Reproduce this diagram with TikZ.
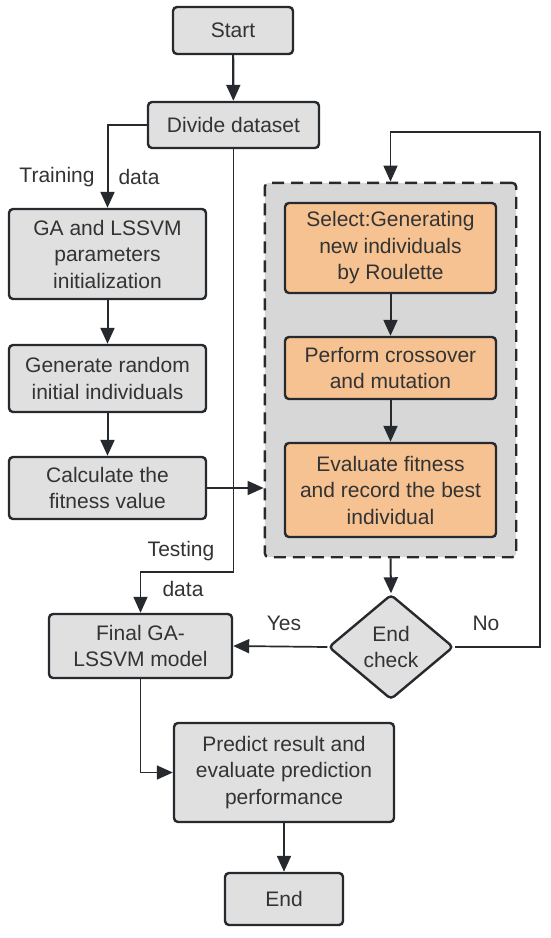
\documentclass[tikz,border=0pt]{standalone}
\usepackage{fontspec}
\setmainfont{Liberation Sans}
\usepackage{tikz}
\usetikzlibrary{shapes,arrows.meta,fit,backgrounds}
\definecolor{boxGray}{RGB}{224,224,224}
\definecolor{loopGray}{RGB}{215,215,215}
\definecolor{myOrange}{RGB}{246,194,145}
\definecolor{lineDark}{RGB}{38,42,46}
\definecolor{textDark}{RGB}{51,51,51}

\begin{document}
\begin{tikzpicture}[%
	x=1pt,y=-1pt,
	every node/.style={
		font=\fontsize{21}{26.5}\selectfont,
		text=textDark,
		align=center,
	},
	box/.style={
		draw=lineDark, line width=2.4pt, fill=boxGray,
		rounded corners=4pt, inner sep=2pt,
	},
	gabox/.style={box, fill=myOrange},
	label/.style={inner sep=0pt},
	link/.style={->, draw=lineDark, line width=2pt},
	thin link/.style={link, line width=1.7pt},
	>={Triangle[length=16pt,width=14pt]},
	]
	\useasboundingbox (0,0) rectangle (550,938);
	
	% main column
	\node[box, minimum width=120pt, minimum height=47pt] (start) at (233,30.5) {Start};
	\node[box, minimum width=171pt, minimum height=46pt] (divide) at (233.5,125) {Divide dataset};
	\node[box, minimum width=197pt, minimum height=90pt] (init) at (107.5,254) {GA and LSSVM\\parameters\\initialization};
	\node[box, minimum width=197pt, minimum height=67pt] (gen) at (107.5,378.5) {Generate random\\initial individuals};
	\node[box, minimum width=197pt, minimum height=62pt] (calc) at (107.5,488) {Calculate the\\fitness value};
	\node[box, minimum width=183pt, minimum height=64pt] (final) at (140.5,646) {Final GA-\\LSSVM model};
	\node[box, minimum width=220pt, minimum height=99pt] (pred) at (284,772.5) {Predict result and\\evaluate prediction\\performance};
	\node[box, minimum width=118pt, minimum height=52pt] (stop) at (284,899) {End};
	
	% GA loop
	\node[gabox, minimum width=211pt, minimum height=90pt] (sel) at (390.5,248) {Select:Generating\\new individuals\\by Roulette};
	\node[gabox, minimum width=211pt, minimum height=62pt] (cross) at (390.5,368) {Perform crossover\\and mutation};
	\node[gabox, minimum width=211pt, minimum height=94pt] (eval) at (390.5,490) {Evaluate fitness\\and record the best\\individual};
	\begin{scope}[on background layer]
		\node[draw=lineDark, line width=2.4pt, fill=loopGray, rounded corners=4pt,
		dash pattern=on 12pt off 7pt, inner sep=19pt, fit=(sel)(cross)(eval)] (loop) {};
	\end{scope}
	\node[box, shape=diamond, aspect=1.2, inner sep=0pt,
	minimum width=125pt, minimum height=105pt] (check) at (391,647) {End\\check};
	
	% helper points
	\coordinate (tbend) at (233.5,572);
	\coordinate (fb) at (540,132);
	
	% draw connectors
	\draw[link, line width=2.2pt] (start) -- (divide);
	\draw[link] (divide.west) -| (init.north);
	\draw[link] (init) -- (gen);
	\draw[link] (gen) -- (calc);
	\draw[thin link] (calc.east) -- (calc.east -| loop.west);
	\draw[thin link] (divide.south) -- (tbend) -| (final.north);
	\draw[link] (sel) -- (cross);
	\draw[link] (cross) -- (eval);
	\draw[link] (loop.south) -- (check.north);
	\draw[thin link] (check.west) -- (final.east);
	\draw[thin link] (check.east) -| (fb) -| (loop.north);
	\draw[thin link] (final.south) |- (pred.west);
	\draw[link] (pred) -- (stop);
	
	% place connector labels
	\node[label] (trainA) at (57,177) {Training};
	\node[label] (trainB) at (139,177) {data};
	\node[label] (testA) at (181,551) {Testing};
	\node[label] (testB) at (183,589) {data};
	\node[label] (yes) at (284,623) {Yes};
	\node[label] (no) at (486,623) {No};
\end{tikzpicture}
\end{document}
